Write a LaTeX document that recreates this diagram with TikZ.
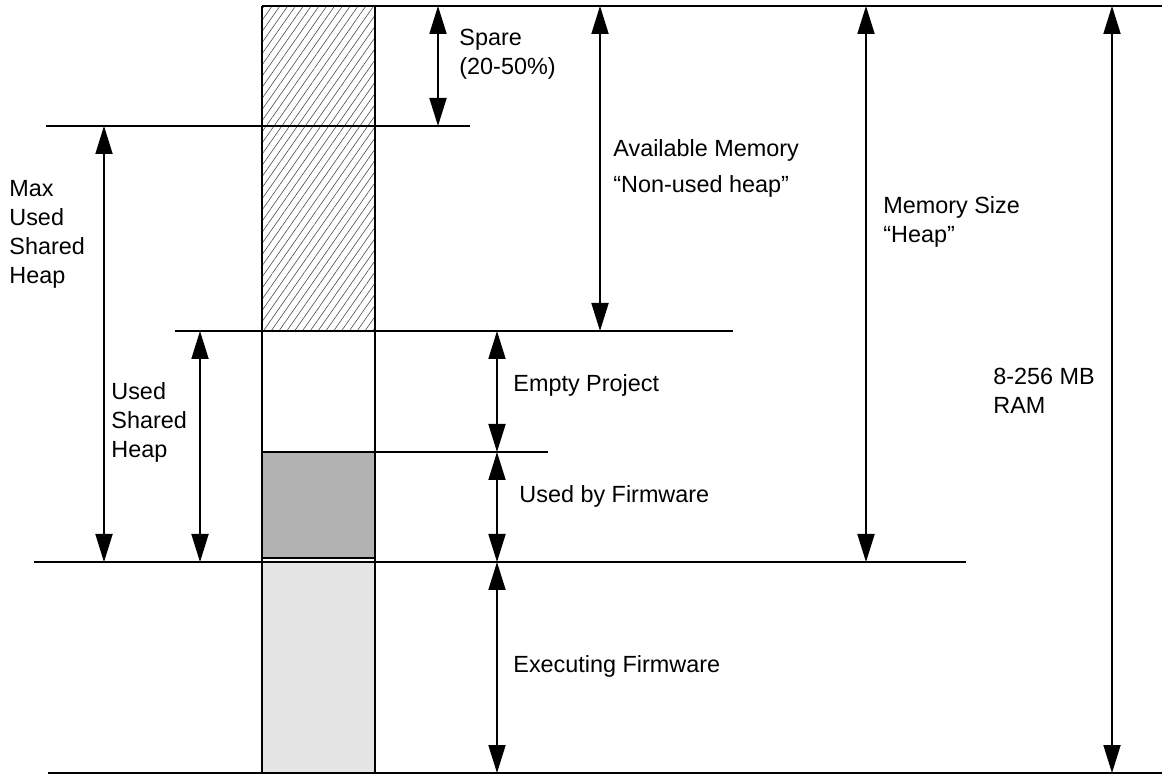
\documentclass[tikz,border=0pt]{standalone}
\usepackage{fontspec}
\setmainfont{Liberation Sans}
\usepackage{tikz}
\usetikzlibrary{arrows.meta,patterns.meta}

\begin{document}
\begin{tikzpicture}[
  x=0.5pt, y=-0.5pt,
  font=\fontsize{11.7}{14.6}\selectfont,
  every node/.style={align=left, inner sep=0pt, anchor=base west},
  lvl/.style={line width=0.9pt},
  dim/.style={{Triangle[length=14pt,width=8.5pt]}-{Triangle[length=14pt,width=8.5pt]}, line width=0.9pt},
  spare/.style={pattern={Lines[angle=55,distance=3.2pt,line width=0.3pt]}, pattern color=black!70},
]
\useasboundingbox (0,0) rectangle (1162,774);

%% --- Memory column ---
\fill[spare] (262,6) rectangle (375,331);
\fill[black!30] (262,452) rectangle (375,558);
\fill[black!10] (262,562) rectangle (375,774);
\draw[lvl] (262,452) rectangle (375,558);
\draw[lvl] (262,6) -- (262,774) (375,6) -- (375,774);

%% --- Level lines ---
\draw[lvl] (262,6) -- (1162,6);
\draw[lvl] (46,126) -- (470,126);
\draw[lvl] (175,331) -- (733,331);
\draw[lvl] (262,452) -- (548,452);
\draw[lvl] (34,562) -- (966,562);
\draw[lvl] (48,773) -- (1162,773);

%% --- Arrow end points ---
\coordinate (spare-t)  at (438,6);   \coordinate (spare-b)  at (438,126);
\coordinate (avail-t)  at (600,6);   \coordinate (avail-b)  at (600,331);
\coordinate (size-t)   at (866,6);   \coordinate (size-b)   at (866,562);
\coordinate (ram-t)    at (1112,6);  \coordinate (ram-b)    at (1112,773);
\coordinate (maxsh-t)  at (104,126); \coordinate (maxsh-b)  at (104,562);
\coordinate (usedsh-t) at (200,331); \coordinate (usedsh-b) at (200,562);
\coordinate (empty-t)  at (497,331); \coordinate (empty-b)  at (497,452);
\coordinate (fw-t)     at (497,452); \coordinate (fw-b)     at (497,562);
\coordinate (exec-t)   at (497,562); \coordinate (exec-b)   at (497,773);

%% --- Dimension arrows ---
\draw[dim] (spare-t)  -- (spare-b);
\draw[dim] (avail-t)  -- (avail-b);
\draw[dim] (size-t)   -- (size-b);
\draw[dim] (ram-t)    -- (ram-b);
\draw[dim] (maxsh-t)  -- (maxsh-b);
\draw[dim] (usedsh-t) -- (usedsh-b);
\draw[dim] (empty-t)  -- (empty-b);
\draw[dim] (fw-t)     -- (fw-b);
\draw[dim] (exec-t)   -- (exec-b);

%% --- Labels (base = last line) ---
\node (spare-l)  at (459,75)  {Spare\\(20-50\%)};
\node (avail-l)  at (613,193) {Available Memory\\[3.5pt]“Non-used heap”};
\node (size-l)   at (883,243) {Memory Size\\“Heap”};
\node (ram-l)    at (993,414) {8-256 MB\\RAM};
\node (maxsh-l)  at (9,284)   {Max\\Used\\Shared\\Heap};
\node (usedsh-l) at (111,458) {Used\\Shared\\Heap};
\node (empty-l)  at (513,392) {Empty Project};
\node (fw-l)     at (519,503) {Used by Firmware};
\node (exec-l)   at (513,673) {Executing Firmware};

\end{tikzpicture}
\end{document}
